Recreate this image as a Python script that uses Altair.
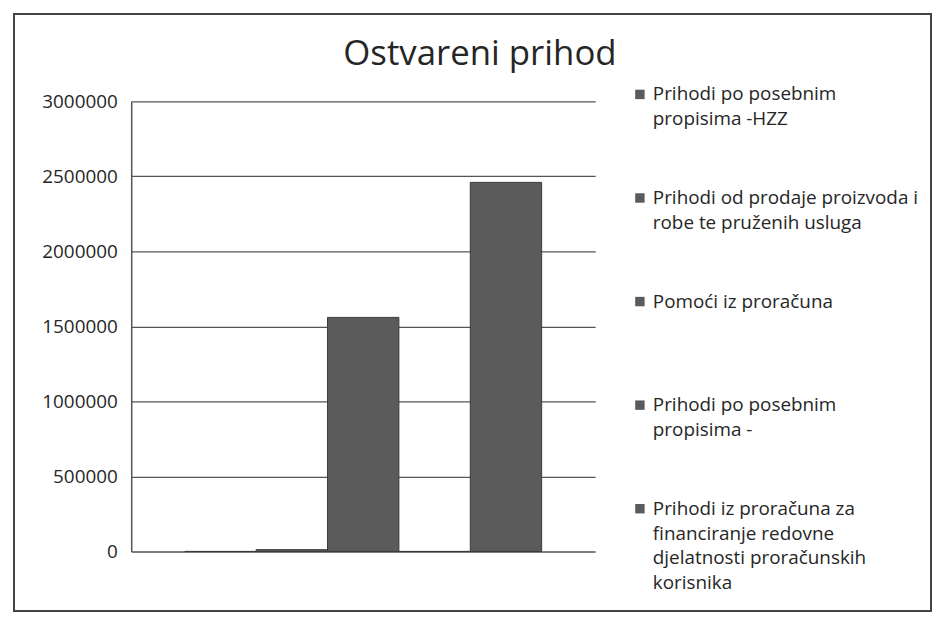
import altair as alt
import pandas as pd

chart_title = ["Ostvareni prihod"]
series = [
    "Prihodi po posebnim propisima -HZZ",
    "Prihodi od prodaje proizvoda i robe te pruženih usluga",
    "Pomoći iz proračuna",
    "Prihodi po posebnim propisima -",
    "Prihodi iz proračuna za financiranje redovne djelatnosti proračunskih korisnika",
]
legend_labels = [
    "Prihodi po posebnim\npropisima -HZZ",
    "Prihodi od prodaje proizvoda i\nrobe te pruženih usluga",
    "Pomoći iz proračuna",
    "Prihodi po posebnim\npropisima   -",
    "Prihodi iz proračuna za\nfinanciranje redovne\ndjelatnosti proračunskih\nkorisnika",
]
values = [0, 12000, 1560000, 0, 2460000]
y_ticks = [0, 500000, 1000000, 1500000, 2000000, 2500000, 3000000]

df = pd.DataFrame({"series": series, "value": values, "label": legend_labels})
df_title = pd.DataFrame({"title": chart_title})

FONT = "Open Sans"
BAR = "#5b5b5b"
TXT = "#262626"

bars = alt.Chart(df).mark_bar(color=BAR, stroke="#3a3a3a", strokeWidth=1).encode(
    x=alt.X("series:N", sort=series, axis=None,
            scale=alt.Scale(paddingInner=0, paddingOuter=0.75)),
    y=alt.Y("value:Q", scale=alt.Scale(domain=[0, 3000000]),
            axis=alt.Axis(values=y_ticks, format="d", title=None, ticks=False,
                          labelPadding=14, labelFontSize=19, labelFont=FONT,
                          labelColor=TXT, grid=True, gridColor="#555555",
                          gridWidth=1.4, domain=True, domainColor="#555555",
                          domainWidth=1.5)),
)

# legend: one entry per series, first line of each entry on an evenly spaced point scale
leg_y = alt.Y("series:N", sort=series, axis=None,
              scale=alt.Scale(type="point", range=[-7, 410], padding=0))

leg_sym = alt.Chart(df).mark_point(shape="square", filled=True, size=90,
                                   color=BAR, opacity=1).encode(
    x=alt.value(512), y=leg_y)

leg_txt = alt.Chart(df).mark_text(align="left", baseline="middle", lineBreak="\n",
                                  lineHeight=25, fontSize=19, font=FONT,
                                  color=TXT).encode(
    x=alt.value(525), y=leg_y, text="label:N")

title = alt.Chart(df_title).mark_text(align="center", baseline="alphabetic",
                                      fontSize=35, font=FONT, color=TXT).encode(
    x=alt.value(351), y=alt.value(-37), text="title:N")

frame = alt.Chart(df).mark_rect(fill=None, stroke="#444444", strokeWidth=1.5).encode(
    x=alt.value(-118), x2=alt.value(805), y=alt.value(-88), y2=alt.value(513))

chart = alt.layer(bars, leg_sym, leg_txt, title, frame).resolve_scale(
    y="independent").properties(
    width=467, height=453,
    autosize=alt.AutoSizeParams(type="none"),
    padding={"left": 124, "top": 92, "right": 340, "bottom": 62},
).configure_view(stroke=None)

chart.save("out.html", embed_options={"renderer": "svg", "actions": False})
